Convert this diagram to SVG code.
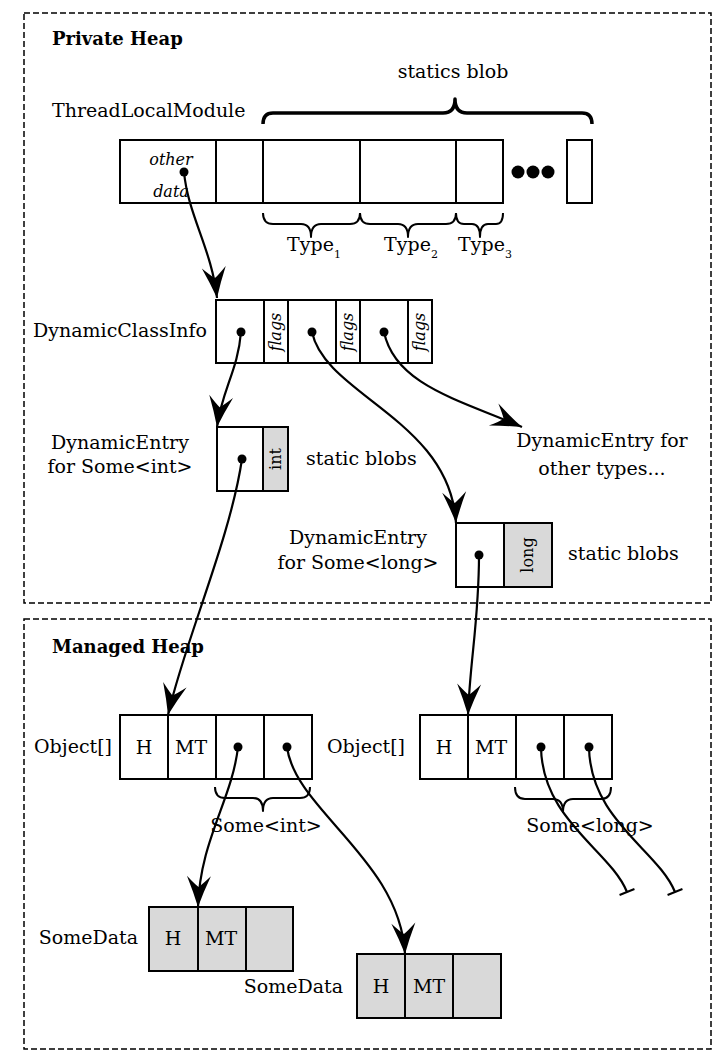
<svg xmlns="http://www.w3.org/2000/svg" width="724" height="1063" viewBox="0 0 724 1063">
<style>
text{font-family:"DejaVu Serif","Liberation Serif",serif;font-size:19px;fill:#000}
.b{font-weight:bold;font-size:18px}
.i{font-style:italic;font-size:16px}
.s{font-size:16px}
.m{text-anchor:middle}
.e{text-anchor:end}
.box{fill:#fff;stroke:#000;stroke-width:2}
.g{fill:#d9d9d9;stroke:#000;stroke-width:2}
.ln{fill:none;stroke:#000;stroke-width:2}
.dash{fill:none;stroke:#000;stroke-width:1.5;stroke-dasharray:6 3}
.brace{fill:none;stroke:#000;stroke-width:2;stroke-linejoin:round}
.bigbrace{fill:none;stroke:#000;stroke-width:3.5;stroke-linejoin:round}
.con{fill:none;stroke:#000;stroke-width:2.2}
</style>
<defs>
<marker id="arr" markerUnits="userSpaceOnUse" markerWidth="34" markerHeight="28" viewBox="-32 -14 34 28" refX="0" refY="0" orient="auto">
<path d="M0,0 Q-15,-5 -31,-12 Q-23,-4 -20,0 Q-23,4 -31,12 Q-15,5 0,0Z" fill="#000"/>
</marker>
<marker id="bar" markerUnits="userSpaceOnUse" markerWidth="20" markerHeight="20" viewBox="-10 -10 20 20" refX="0" refY="0" orient="auto">
<path d="M0,-8 L0,8" stroke="#000" stroke-width="2"/>
</marker>
<circle id="dot" r="4.5" fill="#000"/>
</defs>

<g id="private-heap">
<rect class="dash" x="24" y="13" width="687" height="590"/>
<text class="b" x="52" y="45">Private Heap</text>
</g>
<g id="managed-heap">
<rect class="dash" x="24" y="619" width="687" height="430"/>
<text class="b" x="52" y="653">Managed Heap</text>
</g>

<g id="thread-local-module">
<text x="52" y="117">ThreadLocalModule</text>
<rect class="box" x="120" y="140" width="383" height="63"/>
<path class="ln" d="M216,140V203M263,140V203M360,140V203M456,140V203"/>
<text class="i m" x="171" y="165">other</text>
<text class="i m" x="171" y="197">data</text>
<use href="#dot" x="184" y="172"/>
<circle cx="518" cy="172" r="6.5" fill="#000"/>
<circle cx="533" cy="172" r="6.5" fill="#000"/>
<circle cx="548" cy="172" r="6.5" fill="#000"/>
<rect class="box" x="567" y="140" width="25" height="63"/>
</g>

<g id="statics-blob-brace">
<path class="bigbrace" d="M263,124 Q263,113 273,113 L443,113 Q455,113 455,99 Q455,113 467,113 L582,113 Q592,113 592,124"/>
<text class="m" x="453" y="78">statics blob</text>
</g>

<g id="type-braces">
<path class="brace" d="M263,213 Q263,224 273,224 L301,224 Q311,224 311,237 Q311,224 321,224 L350,224 Q360,224 360,213"/>
<path class="brace" d="M360,213 Q360,224 370,224 L398,224 Q408,224 408,237 Q408,224 418,224 L446,224 Q456,224 456,213"/>
<path class="brace" d="M456,213 Q456,224 464,224 L472,224 Q480,224 480,237 Q480,224 488,224 L496,224 Q503,224 503,213"/>
<text class="m" x="314" y="251">Type<tspan font-size="11" dy="7">1</tspan></text>
<text class="m" x="411" y="251">Type<tspan font-size="11" dy="7">2</tspan></text>
<text class="m" x="485" y="251">Type<tspan font-size="11" dy="7">3</tspan></text>
</g>

<g id="dynamic-class-info">
<text class="e" x="207" y="337">DynamicClassInfo</text>
<rect class="box" x="216" y="300" width="216" height="63"/>
<path class="ln" d="M264,300V363M288,300V363M336,300V363M360,300V363M408,300V363"/>
<text class="i m" transform="translate(281,332) rotate(-90)">flags</text>
<text class="i m" transform="translate(353,332) rotate(-90)">flags</text>
<text class="i m" transform="translate(425,332) rotate(-90)">flags</text>
<use href="#dot" x="241" y="332"/>
<use href="#dot" x="312" y="332"/>
<use href="#dot" x="384" y="332"/>
</g>

<g id="dynamic-entry-int">
<text class="m" x="120" y="449">DynamicEntry</text>
<text class="m" x="120" y="473">for Some&lt;int&gt;</text>
<rect class="box" x="217" y="427" width="46" height="64"/>
<rect class="g" x="263" y="427" width="25" height="64"/>
<text class="s m" transform="translate(281,459) rotate(-90)">int</text>
<use href="#dot" x="242" y="459"/>
<text x="306" y="465">static blobs</text>
</g>

<g id="dynamic-entry-other">
<text class="m" x="602" y="447">DynamicEntry for</text>
<text class="m" x="602" y="475">other types...</text>
</g>

<g id="dynamic-entry-long">
<text class="m" x="358" y="544">DynamicEntry</text>
<text class="m" x="358" y="569">for Some&lt;long&gt;</text>
<rect class="box" x="456" y="523" width="48" height="64"/>
<rect class="g" x="504" y="523" width="48" height="64"/>
<text class="s m" transform="translate(533,555) rotate(-90)">long</text>
<use href="#dot" x="479" y="555"/>
<text x="568" y="560">static blobs</text>
</g>

<g id="object-array-int">
<text class="e" x="112" y="753">Object[]</text>
<rect class="box" x="120" y="715" width="192" height="64"/>
<path class="ln" d="M168,715V779M216,715V779M264,715V779"/>
<text class="m" x="144" y="754">H</text>
<text class="m" x="191" y="754">MT</text>
<use href="#dot" x="238" y="747"/>
<use href="#dot" x="287" y="747"/>
<path class="brace" d="M215,787 Q215,798 225,798 L253,798 Q263,798 263,811 Q263,798 273,798 L300,798 Q310,798 310,787"/>
<text class="m" x="266" y="832">Some&lt;int&gt;</text>
</g>

<g id="object-array-long">
<text class="e" x="405" y="753">Object[]</text>
<rect class="box" x="420" y="715" width="192" height="64"/>
<path class="ln" d="M468,715V779M516,715V779M564,715V779"/>
<text class="m" x="444" y="754">H</text>
<text class="m" x="491" y="754">MT</text>
<use href="#dot" x="541" y="747"/>
<use href="#dot" x="589" y="747"/>
<path class="brace" d="M515,787 Q515,799 525,799 L553,799 Q563,799 563,812 Q563,799 573,799 L601,799 Q611,799 611,787"/>
<text class="m" x="590" y="832">Some&lt;long&gt;</text>
</g>

<g id="some-data-1">
<text class="e" x="138" y="944">SomeData</text>
<rect class="g" x="149" y="907" width="144" height="64"/>
<path class="ln" d="M198,907V971M246,907V971"/>
<text class="m" x="173" y="945">H</text>
<text class="m" x="221" y="945">MT</text>
</g>

<g id="some-data-2">
<text class="e" x="343" y="993">SomeData</text>
<rect class="g" x="357" y="954" width="144" height="64"/>
<path class="ln" d="M405,954V1018M453,954V1018"/>
<text class="m" x="381" y="993">H</text>
<text class="m" x="429" y="993">MT</text>
</g>

<g id="connectors">
<path class="con" marker-end="url(#arr)" d="M184,172 C188,215 212,250 217,298"/>
<path class="con" marker-end="url(#arr)" d="M241,332 C238,370 222,390 217,427"/>
<path class="con" marker-end="url(#arr)" d="M312,332 C325,395 450,420 456,523"/>
<path class="con" marker-end="url(#arr)" d="M384,332 C395,385 460,400 522,427"/>
<path class="con" marker-end="url(#arr)" d="M242,459 C230,540 185,640 168,715"/>
<path class="con" marker-end="url(#arr)" d="M479,555 C479,620 470,660 468,715"/>
<path class="con" marker-end="url(#arr)" d="M238,747 C232,800 200,840 198,907"/>
<path class="con" marker-end="url(#arr)" d="M287,747 C295,810 400,860 405,954"/>
<path class="con" marker-end="url(#bar)" d="M541,747 C542,820 610,850 627,892"/>
<path class="con" marker-end="url(#bar)" d="M589,747 C590,820 658,850 675,892"/>
</g>
</svg>
